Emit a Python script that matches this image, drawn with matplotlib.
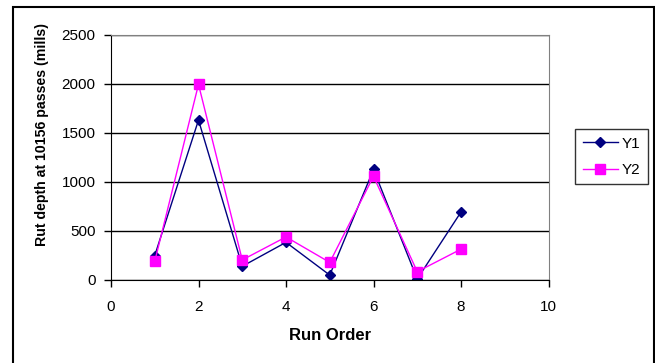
import matplotlib
matplotlib.use("Agg")
import matplotlib.pyplot as plt
from matplotlib.patches import Rectangle

plt.rcParams['font.family'] = ['Liberation Sans', 'DejaVu Sans']

run_order = [1, 2, 3, 4, 5, 6, 7, 8]
y1 = [245, 1630, 135, 380, 45, 1125, 5, 690]
y2 = [185, 1995, 200, 435, 175, 1055, 80, 310]

fig = plt.figure(figsize=(6.55, 3.63), dpi=100)
ax = fig.add_axes([111 / 655, 1 - 279.5 / 363, (548.5 - 111) / 655, (279.5 - 35) / 363])

ax.plot(run_order, y1, color='#000080', marker='D', markersize=5, lw=1, label='Y1')
ax.plot(run_order, y2, color='#ff00ff', marker='s', markersize=6.5, lw=1, label='Y2')

ax.set_xlim(0, 10)
ax.set_ylim(0, 2500)
ax.set_xticks(range(0, 11, 2))
ax.set_yticks(range(0, 2501, 500))
ax.yaxis.grid(True, color='black', lw=1)
ax.set_axisbelow(True)
ax.tick_params(direction='out', length=5, width=1, labelsize=11, colors='black')
ax.tick_params(axis='x', pad=10)
ax.tick_params(axis='y', pad=6)
for s in ['top', 'right']:
    ax.spines[s].set_color('#808080')
for s in ['left', 'bottom']:
    ax.spines[s].set_color('black')

ax.set_xlabel('Run Order', fontsize=12, fontweight='bold')
ax.xaxis.set_label_coords(0.5, -(335 - 279.5) / 244.5)
ax.xaxis.label.set_va('center')
ax.set_ylabel('Rut depth at 10156 passes (mills)', fontsize=10.2, fontweight='bold')
ax.yaxis.set_label_coords((42 - 111) / 437.5, (279.5 - 134.5) / 244.5)
ax.yaxis.label.set_va('center')

leg = ax.legend(loc='upper left', bbox_to_anchor=(575 / 655, 1 - 129 / 363),
                bbox_transform=fig.transFigure, frameon=True, fancybox=False,
                fontsize=11, handlelength=2.3, borderpad=0.5, labelspacing=0.8,
                handletextpad=0.25, borderaxespad=0)
leg.get_frame().set_edgecolor('black')
leg.get_frame().set_linewidth(1)

# outer chart border
fig.patches.append(Rectangle((13 / 655, -0.05), (654 - 13) / 655, 1.05 - 7 / 363,
                             transform=fig.transFigure, fill=False,
                             edgecolor='black', lw=1.5))

fig.savefig('out.png', dpi=100)
